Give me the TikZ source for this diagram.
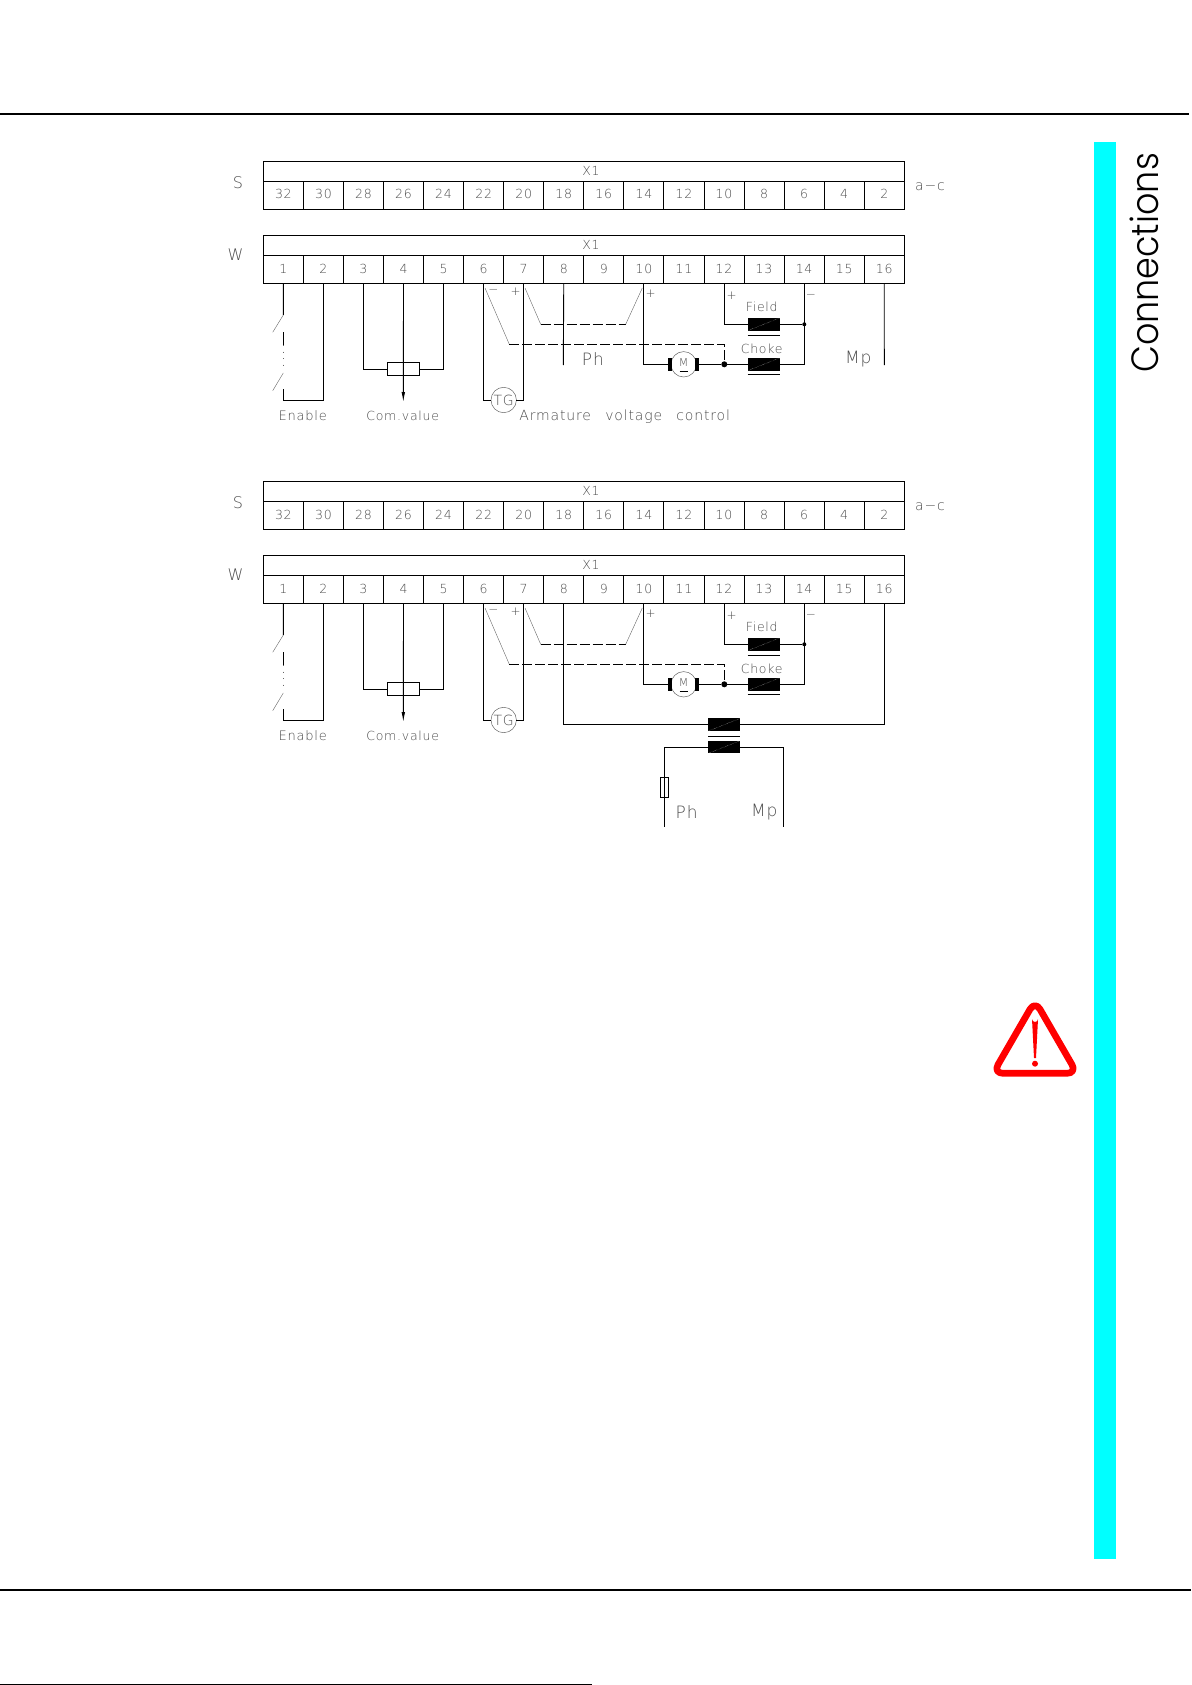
\documentclass[tikz,border=0pt]{standalone}
\usepackage{fontspec}
\newfontfamily\cadfont[LetterSpace=6]{DejaVu Sans ExtraLight}
\newfontfamily\sidefont{Poppins Light}
\usetikzlibrary{calc,positioning,chains,arrows.meta}
\definecolor{sidebar}{RGB}{0,255,255}
\definecolor{warnred}{RGB}{255,0,0}
\tikzset{
  x=1pt, y=-1pt,
  wire/.style={draw, line width=.9pt},
  thinwire/.style={draw, line width=.4pt, black!60},
  dashwire/.style={draw, line width=.9pt, dash pattern=on 10pt off 3pt},
  stripbox/.style={
    rectangle,
    draw=black, line width=.9pt,
    outer sep=0pt, inner sep=0pt,
    minimum width=641pt,
    minimum height=20pt},
  cellbox/.style={
    rectangle,
    draw=black, line width=.9pt,
    outer sep=0pt, inner sep=0pt,
    minimum width=40.06pt,
    minimum height=#1,
    text height=9pt,
    text depth=2pt,
    text=black!70,
    font=\cadfont\fontsize{12.5}{13}\selectfont,
    on chain},
  cadtext/.style={
    inner sep=0pt, outer sep=0pt,
    text=black!70,
    font=\cadfont\fontsize{#1}{#1}\selectfont},
  cadtext/.default=12.5,
  coil/.style={
    rectangle, fill=black,
    outer sep=0pt, inner sep=0pt,
    minimum width=32pt,
    minimum height=12.7pt},
  brush/.style={
    rectangle, fill=black,
    outer sep=0pt, inner sep=0pt,
    minimum width=4.5pt,
    minimum height=13.3pt},
  machine/.style={
    circle, draw=black!60, line width=.5pt,
    outer sep=0pt, inner sep=0pt,
    text=black!70,
    minimum size=25.4pt},
  outlinebox/.style={
    rectangle, draw=black, line width=.9pt,
    outer sep=0pt, inner sep=0pt},
  junction/.style={
    circle, fill=black,
    outer sep=0pt, inner sep=0pt,
    minimum size=#1},
  rule/.style={draw, line width=2pt}
}
% coil with its dotted stroke and the core bar below it
\newcommand{\coilmark}[2]{
  \draw[white, line width=.3pt, densely dotted] (#1.south west) -- (#1.north east);
  \draw[wire] ([yshift=-#2]#1.south west) -- ([yshift=-#2]#1.south east);
}
% terminal strip and wiring shared by both drawings
\newcommand{\connector}[2]{
  \begin{scope}[shift={(0,#2)}]
    \node[stripbox] (#1SHead) at (583.8,171.7) {};
    \node[cadtext] (#1SName) at (591,171) {X1};
    \begin{scope}[start chain=going right, node distance=0pt]
      \node[cellbox=27.6pt, at={(283.33,195.5)}] (#1SCell1) {32};
      \foreach \num [count=\i from 2] in {30,28,26,24,22,20,18,16,14,12,10,8,6,4,2}
        \node[cellbox=27.6pt] (#1SCell\i) {\num};
    \end{scope}
    \node[stripbox] (#1WHead) at (583.8,245.3) {};
    \node[cadtext] (#1WName) at (591,245) {X1};
    \begin{scope}[start chain=going right, node distance=0pt]
      \node[cellbox=28.6pt, at={(283.33,269.6)}] (#1WCell1) {1};
      \foreach \i in {2,3,...,16}
        \node[cellbox=28.6pt] (#1WCell\i) {\i};
    \end{scope}
    \node[cadtext=16] (#1SLabel) at (238,183) {S};
    \node[cadtext=16] (#1WLabel) at (235.5,255) {W};
    \node[cadtext=14] (#1Side) at (930,186.5) {a−c};

    % enable contacts
    \coordinate (#1SwA) at (283.3,315);
    \coordinate (#1SwB) at (272.7,332.3);
    \coordinate (#1SwC) at (283.3,332.3);
    \coordinate (#1SwD) at (283.3,345);
    \coordinate (#1SwE) at (283.3,367);
    \coordinate (#1SwF) at (283.3,373);
    \coordinate (#1SwG) at (272.7,390.7);
    \coordinate (#1SwH) at (283.3,389.3);
    \coordinate (#1SwI) at (283.3,400);
    \draw[wire] (#1WCell1.south) -- (#1SwA);
    \draw[thinwire] (#1SwA) -- (#1SwB);
    \draw[wire] (#1SwC) -- (#1SwD);
    \draw[thinwire, dash pattern=on .5pt off 6pt] (#1SwD) -- (#1SwE);
    \draw[thinwire] (#1SwF) -- (#1SwG);
    \draw[wire] (#1SwH) -- (#1SwI) -| (#1WCell2.south);
    \node[cadtext=13] (#1Enable) at (302.7,415.7) {Enable};

    % reference potentiometer
    \node[outlinebox, minimum width=32.4pt, minimum height=13.4pt] (#1Pot) at (403.5,369) {};
    \coordinate (#1PotTip) at (403.3,402);
    \draw[wire] (#1WCell3.south) |- (#1Pot.west);
    \draw[wire] (#1Pot.east) -| (#1WCell5.south);
    \draw[wire, -{Latex[length=10pt,width=3.6pt]}] (#1WCell4.south) -- (#1PotTip);
    \node[cadtext] (#1ComValue) at (402.7,415.7) {Com.value};

    % tacho
    \node[machine] (#1Tacho) at (503.7,400) {\cadfont\fontsize{14}{14}\selectfont TG};
    \draw[wire] (#1WCell6.south) |- (#1Tacho.west);
    \draw[wire] (#1WCell7.south) |- (#1Tacho.east);
    \node[cadtext=12] (#1TachoMinus) at (493.3,291.7) {−};
    \node[cadtext=12] (#1TachoPlus) at (515.7,291.7) {+};

    % armature, field and choke
    \node[machine] (#1Motor) at (683.7,364.3) {};
    \node[cadtext=11] (#1MotorName) at (683.7,362.5) {M};
    \coordinate (#1MotorBarA) at (679.5,371.7);
    \coordinate (#1MotorBarB) at (687.5,371.7);
    \draw[wire] (#1MotorBarA) -- (#1MotorBarB);
    \node[brush] (#1BrushL) at (670,364.3) {};
    \node[brush] (#1BrushR) at (697,364.3) {};
    \node[junction=6pt] (#1Junction) at (724.3,364.3) {};
    \node[coil] (#1Choke) at (763.7,364.3) {};
    \node[coil] (#1Field) at (763.7,324.3) {};
    \node[junction=4pt] (#1FieldDot) at (804.3,324.3) {};
    \coilmark{#1Choke}{4pt}
    \coilmark{#1Field}{5pt}
    \draw[wire] (#1WCell10.south) |- (#1BrushL.west);
    \draw[wire] (#1BrushR.east) -- (#1Junction) -- (#1Choke.west);
    \draw[wire] (#1Choke.east) -| (#1WCell14.south);
    \draw[wire] (#1WCell12.south) |- (#1Field.west);
    \draw[wire] (#1Field.east) -- (#1FieldDot);
    \node[cadtext] (#1FieldName) at (761.7,307.3) {Field};
    \node[cadtext] (#1ChokeName) at (761.7,349) {Choke};
    \node[cadtext=12] (#1ArmPlus) at (650.7,293.3) {+};
    \node[cadtext=12] (#1FieldPlus) at (731.7,295.7) {+};
    \node[cadtext=12] (#1FieldMinus) at (811,296) {−};

    % feedback
    \coordinate (#1FbA) at (485,288);
    \coordinate (#1FbB) at (509.3,344.3);
    \coordinate (#1FbC) at (724.3,344.3);
    \coordinate (#1FdA) at (525,288);
    \coordinate (#1FdB) at (540.7,324.3);
    \coordinate (#1FdC) at (625.7,324.3);
    \coordinate (#1FdD) at (642.3,288);
    \draw[thinwire] (#1FbA) -- (#1FbB);
    \draw[dashwire] (#1FbB) -- (#1FbC) -- (#1Junction);
    \draw[thinwire] (#1FdA) -- (#1FdB);
    \draw[dashwire] (#1FdB) -- (#1FdC);
    \draw[thinwire] (#1FdC) -- (#1FdD);
  \end{scope}
}

\begin{document}
\begin{tikzpicture}
  \useasboundingbox (0,0) rectangle (1191,1685);

  % page furniture
  \coordinate (TopA) at (0,114);
  \coordinate (TopB) at (1189,114);
  \coordinate (BotA) at (0,1590);
  \coordinate (BotB) at (1191,1590);
  \coordinate (EdgeA) at (0,1684);
  \coordinate (EdgeB) at (591.7,1684);
  \draw[rule] (TopA) -- (TopB);
  \draw[rule] (BotA) -- (BotB);
  \draw[wire] (EdgeA) -- (EdgeB);
  \fill[sidebar] (1094,142) rectangle (1116,1559);
  \node[rotate=90, inner sep=0pt, font=\sidefont\fontsize{38}{38}\selectfont] (Side) at (1144,263) {\scalebox{.92}[1]{Connections}};

  % warning sign
  \draw[warnred, line width=6.7pt, line join=round, rounded corners=10pt]
    (1035,1000.6) -- (1077,1073.3) -- (993,1073.3) -- cycle;
  \fill[warnred] (1032,1019) arc[start angle=180, end angle=0, radius=3] -- (1036,1058) -- (1034,1058) -- cycle;
  \fill[warnred] (1035,1063.7) circle[radius=3];

  \connector{A}{0}
  \connector{B}{320}

  % first drawing, supply on the terminals
  \coordinate (APhEnd) at (563.3,365);
  \coordinate (AMpEnd) at (884.3,365);
  \draw[wire] (AWCell8.south) -- (APhEnd);
  \draw[wire] (AWCell16.south) -- (AMpEnd);
  \node[cadtext=17] (APh) at (593,359) {Ph};
  \node[cadtext=17] (AMp) at (858.3,359.3) {Mp};
  \node[cadtext=14] (AControl) at (624.7,416.7) {Armature\hspace{9pt} voltage\hspace{9pt} control};

  % second drawing, supply through the transformer
  \node[coil] (TrafoA) at (724.2,724.7) {};
  \node[coil] (TrafoB) at (724.2,747) {};
  \coilmark{TrafoA}{5pt}
  \draw[white, line width=.3pt, densely dotted] (TrafoB.south west) -- (TrafoB.north east);
  \node[outlinebox, minimum width=7.6pt, minimum height=20pt] (Fuse) at (664.3,787.3) {};
  \coordinate (BPhEnd) at (664.3,826.7);
  \coordinate (BMpEnd) at (783.3,826.7);
  \draw[wire] (BWCell8.south) |- (TrafoA.west);
  \draw[wire] (TrafoA.east) -| (BWCell16.south);
  \draw[wire] (TrafoB.west) -| (BPhEnd);
  \draw[wire] (TrafoB.east) -| (BMpEnd);
  \node[cadtext=17] (BPh) at (686.7,811.7) {Ph};
  \node[cadtext=17] (BMp) at (764.3,811.7) {Mp};
\end{tikzpicture}
\end{document}
